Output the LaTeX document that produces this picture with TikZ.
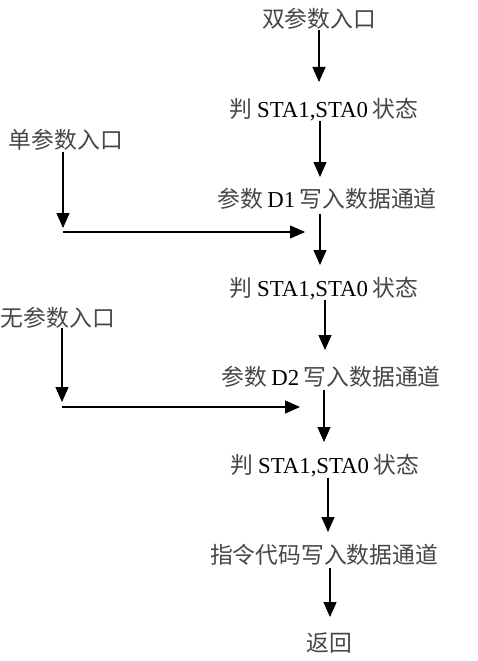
\documentclass[tikz,border=0pt]{standalone}
\usepackage{fontspec}
\setmainfont{Liberation Serif}
\newfontfamily\cjkfont{Noto Sans CJK SC}
\newcommand{\zh}[1]{{\cjkfont\color{black!72}#1}}
\usetikzlibrary{arrows.meta}
\begin{document}
\begin{tikzpicture}[x=1pt,y=-1pt,
  lbl/.style={inner sep=0pt, anchor=center, text=black,
    font=\fontsize{22.8}{25}\selectfont},
  arr/.style={line width=1.1pt, -{Triangle[length=15pt,width=13pt]}}]
\useasboundingbox[fill=white] (0,0) rectangle (478,661);
\node[lbl] (t0) at (319,19) {\zh{双参数入口}};
\node[lbl] (t1) at (324,110) {\zh{判}\hspace{0.2em}STA1,STA0\hspace{0.2em}\zh{状态}};
\node[lbl] (t2) at (66,140) {\zh{单参数入口}};
\node[lbl] (t3) at (327,199) {\zh{参数}\hspace{0.2em}D1\hspace{0.2em}\zh{写入数据通道}};
\node[lbl] (t4) at (324,289) {\zh{判}\hspace{0.2em}STA1,STA0\hspace{0.2em}\zh{状态}};
\node[lbl] (t5) at (58,318) {\zh{无参数入口}};
\node[lbl] (t6) at (331,377) {\zh{参数}\hspace{0.2em}D2\hspace{0.2em}\zh{写入数据通道}};
\node[lbl] (t7) at (325,466) {\zh{判}\hspace{0.2em}STA1,STA0\hspace{0.2em}\zh{状态}};
\node[lbl] (t8) at (324,555) {\zh{指令代码写入数据通道}};
\node[lbl] (t9) at (329,643) {\zh{返回}};
\coordinate (c1) at (63,232);
\coordinate (j1) at (305,232);
\coordinate (c2) at (62,407);
\coordinate (j2) at (300,407);
% main chain
\draw[arr] ([yshift=-11pt]t0.center) -- ([xshift=-5pt,yshift=28pt]t1.center);
\draw[arr] ([xshift=-4pt,yshift=-11pt]t1.center) -- ([xshift=-7pt,yshift=22pt]t3.center);
\draw[arr] ([xshift=-7pt,yshift=-15pt]t3.center) -- ([xshift=-4pt,yshift=24pt]t4.center);
\draw[arr] ([xshift=1pt,yshift=-11pt]t4.center) -- ([xshift=-6pt,yshift=27pt]t6.center);
\draw[arr] ([xshift=-7pt,yshift=-13pt]t6.center) -- ([xshift=-1pt,yshift=24pt]t7.center);
\draw[arr] ([xshift=3pt,yshift=-12pt]t7.center) -- ([xshift=4pt,yshift=23pt]t8.center);
\draw[arr] ([xshift=6pt,yshift=-13pt]t8.center) -- ([xshift=1pt,yshift=26pt]t9.center);
% side entries
\draw[arr] ([xshift=-3pt,yshift=-12pt]t2.center) -- ([yshift=4pt]c1);
\draw[arr] (c1) -- (j1);
\draw[arr] ([xshift=4pt,yshift=-10pt]t5.center) -- ([yshift=5pt]c2);
\draw[arr] (c2) -- (j2);
\end{tikzpicture}
\end{document}
